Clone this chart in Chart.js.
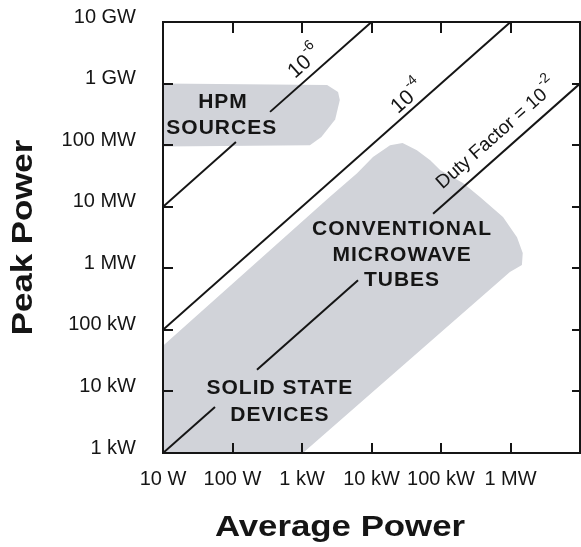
<!DOCTYPE html>
<html>
<head>
<meta charset="utf-8">
<script src="https://cdn.jsdelivr.net/npm/chart.js@4.4.1/dist/chart.umd.min.js"></script>
<style>
  html, body { margin: 0; padding: 0; background: #fff; }
  canvas { display: block; }
</style>
</head>
<body>
<canvas id="chart" width="581" height="547"></canvas>
<script>
// axis ticks (watts)
const xTickValues = [10, 100, 1e3, 1e4, 1e5, 1e6];
const xTickLabels = ['10 W', '100 W', '1 kW', '10 kW', '100 kW', '1 MW'];
const yTickValues = [1e3, 1e4, 1e5, 1e6, 1e7, 1e8, 1e9, 1e10];
const yTickLabels = ['1 kW', '10 kW', '100 kW', '1 MW', '10 MW', '100 MW', '1 GW', '10 GW'];

// region outlines as [average power, peak power]
const hpmRegion = [
  [10, 1e9], [2300, 9.5e8], [3300, 7.3e8], [3500, 5.4e8], [3000, 2.6e8],
  [1900, 1.35e8], [1300, 1e8], [10, 9.5e7]
];
const tubeRegion = [
  [10, 5.5e4], [2500, 1.44e7], [6200, 3.5e7], [10500, 6.4e7], [18500, 1.0e8],
  [28000, 1.08e8], [45000, 8.3e7], [70000, 5.7e7], [97000, 3.95e7],
  [207000, 2.43e7], [364000, 1.44e7], [780000, 6.8e6], [1.24e6, 3.2e6],
  [1.5e6, 1.77e6], [1.46e6, 1.13e6], [9.8e5, 8.7e5], [1030, 1e3], [10, 1e3]
];

// duty factor lines, broken where the labels sit
const duty6Segments = [[[10, 1e7], [112, 1.12e8]], [[347, 3.47e8], [1e4, 1e10]]];
const duty4Segments = [[[10, 1e5], [1e6, 1e10]]];
const duty2Segments = [[[10, 1e3], [56, 5.6e3]], [[225, 2.25e4], [6400, 6.4e5]], [[7.7e4, 7.7e6], [1e7, 1e9]]];

// text annotations placed in data space
const regionLabels = [
  { text: 'HPM', x: 73, y: 5.0e8 },
  { text: 'SOURCES', x: 70, y: 1.9e8 },
  { text: 'CONVENTIONAL', x: 27500, y: 4.35e6 },
  { text: 'MICROWAVE', x: 27500, y: 1.64e6 },
  { text: 'TUBES', x: 27500, y: 6.46e5 },
  { text: 'SOLID STATE', x: 480, y: 1.14e4 },
  { text: 'DEVICES', x: 480, y: 4.14e3 }
];
const dutyLabels = [
  { base: '10', sup: '-6', x: 936, y: 1.86e9 },
  { base: '10', sup: '-4', x: 28400, y: 5.0e8 },
  { base: 'Duty Factor = 10', sup: '-2', x: 5.4e5, y: 1.26e8 }
];

const FONT = '"Liberation Sans", Arial, sans-serif';
const GRAY = '#d1d3d9';
const INK = '#151515';

const toPts = arr => arr.map(([x, y]) => ({ x, y }));

const datasets = [];
[duty6Segments, duty4Segments, duty2Segments].forEach(segs => {
  segs.forEach(seg => {
    datasets.push({
      data: toPts(seg),
      borderColor: INK,
      borderWidth: 2,
      pointRadius: 0,
      fill: false,
      order: 0
    });
  });
});
[hpmRegion, tubeRegion].forEach(r => {
  datasets.push({
    data: toPts(r),
    borderWidth: 0,
    borderColor: GRAY,
    backgroundColor: GRAY,
    pointRadius: 0,
    fill: 'shape',
    order: 1
  });
});

function stretchedText(ctx, text, x, y, angle, sx) {
  ctx.save();
  ctx.translate(x, y);
  ctx.rotate(angle);
  ctx.scale(sx, 1);
  ctx.fillText(text, 0, 0);
  ctx.restore();
}

const overlay = {
  id: 'overlay',
  afterDatasetsDraw(chart) {
    const { ctx, chartArea: a, scales: { x, y } } = chart;
    ctx.save();

    // labels inside the plot
    ctx.fillStyle = INK;
    ctx.textAlign = 'center';
    ctx.textBaseline = 'middle';
    ctx.font = 'bold 21px ' + FONT;
    ctx.letterSpacing = '1px';
    regionLabels.forEach(l => {
      ctx.fillText(l.text, x.getPixelForValue(l.x), y.getPixelForValue(l.y));
    });
    ctx.letterSpacing = '0px';

    const s = duty4Segments[0];
    const ang = Math.atan2(
      y.getPixelForValue(s[1][1]) - y.getPixelForValue(s[0][1]),
      x.getPixelForValue(s[1][0]) - x.getPixelForValue(s[0][0])
    );
    dutyLabels.forEach((l, i) => {
      const big = i === 2 ? 19 : 21;
      ctx.save();
      ctx.translate(x.getPixelForValue(l.x), y.getPixelForValue(l.y));
      ctx.rotate(ang);
      ctx.font = big + 'px ' + FONT;
      ctx.textAlign = 'center';
      const w = ctx.measureText(l.base).width;
      ctx.fillText(l.base, 0, 0);
      ctx.font = '14px ' + FONT;
      ctx.textAlign = 'left';
      ctx.fillText(l.sup, w / 2 + 1, -10);
      ctx.restore();
    });

    // frame with inward ticks
    ctx.strokeStyle = INK;
    ctx.lineWidth = 2;
    ctx.strokeRect(a.left, a.top, a.right - a.left, a.bottom - a.top);
    ctx.beginPath();
    xTickValues.forEach(v => {
      const px = Math.round(x.getPixelForValue(v));
      ctx.moveTo(px, a.bottom); ctx.lineTo(px, a.bottom - 10);
      ctx.moveTo(px, a.top); ctx.lineTo(px, a.top + 11);
    });
    yTickValues.forEach(v => {
      const py = Math.round(y.getPixelForValue(v));
      ctx.moveTo(a.left, py); ctx.lineTo(a.left + 10, py);
      ctx.moveTo(a.right, py); ctx.lineTo(a.right - 8, py);
    });
    ctx.stroke();

    // axis titles
    ctx.font = 'bold 30px ' + FONT;
    ctx.textAlign = 'center';
    ctx.textBaseline = 'middle';
    stretchedText(ctx, 'Average Power', 340, 528, 0, 1.16);
    stretchedText(ctx, 'Peak Power', 24, (a.top + a.bottom) / 2, -Math.PI / 2, 1.16);

    ctx.restore();
  }
};

new Chart(document.getElementById('chart'), {
  type: 'line',
  data: { datasets },
  plugins: [overlay],
  options: {
    responsive: false,
    animation: false,
    layout: { padding: { top: 22, right: 1, left: 0, bottom: 0 } },
    plugins: { legend: { display: false }, tooltip: { enabled: false } },
    scales: {
      x: {
        type: 'logarithmic',
        min: 10,
        max: 1e7,
        grid: { display: false, drawTicks: false },
        border: { display: false },
        afterFit: s => { s.height = 94; s.paddingLeft = 0; s.paddingRight = 0; },
        afterBuildTicks: s => { s.ticks = xTickValues.map(v => ({ value: v })); },
        ticks: {
          autoSkip: false,
          maxRotation: 0,
          padding: 14,
          color: INK,
          font: { family: FONT, size: 20 },
          callback: (v) => xTickLabels[xTickValues.indexOf(v)]
        }
      },
      y: {
        type: 'logarithmic',
        min: 1e3,
        max: 1e10,
        grid: { display: false, drawTicks: false },
        border: { display: false },
        afterFit: s => { s.width = 163; s.paddingTop = 0; s.paddingBottom = 0; },
        afterBuildTicks: s => { s.ticks = yTickValues.map(v => ({ value: v })); },
        ticks: {
          autoSkip: false,
          padding: 27,
          labelOffset: -5,
          color: INK,
          font: { family: FONT, size: 20 },
          callback: (v) => yTickLabels[yTickValues.indexOf(v)]
        }
      }
    }
  }
});
</script>
</body>
</html>
